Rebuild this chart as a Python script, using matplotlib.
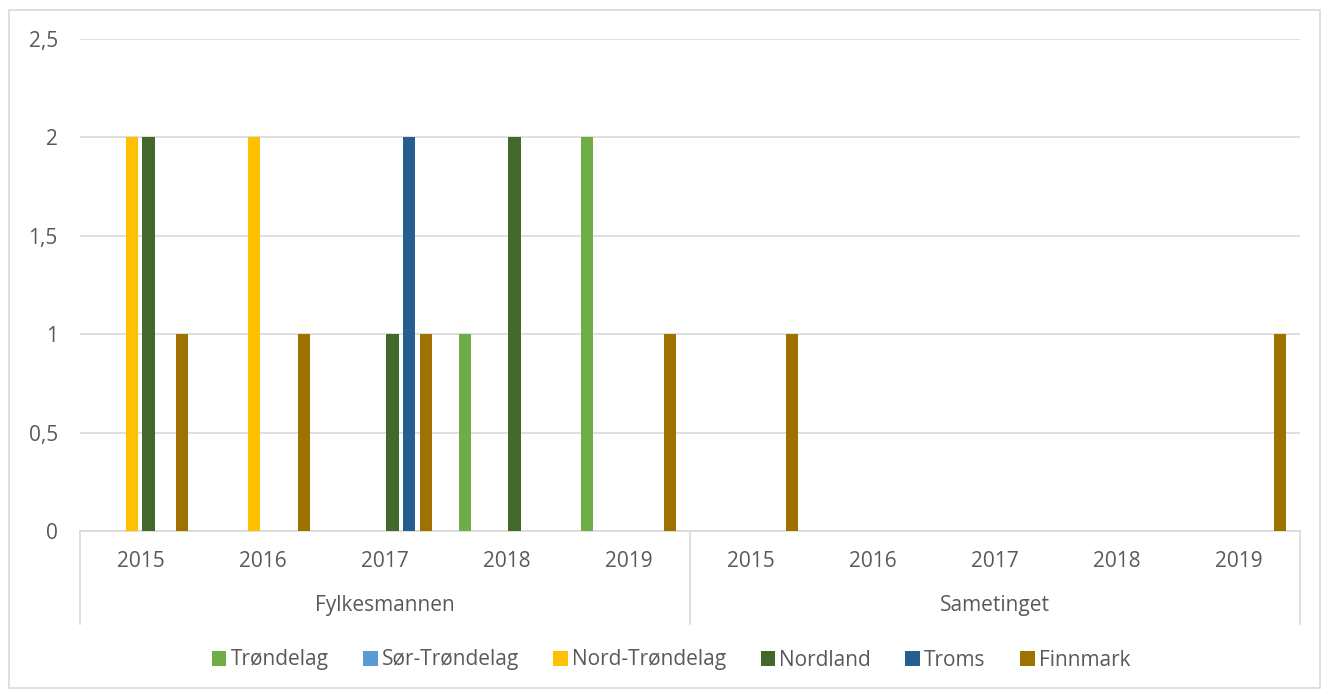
"""Clustered bar chart: cases per county, Fylkesmannen vs Sametinget, 2015-2019."""

import numpy as np
import matplotlib.pyplot as plt
from matplotlib.patches import Rectangle
from matplotlib.transforms import blended_transform_factory

plt.rcParams["font.family"] = ["Open Sans", "DejaVu Sans"]

# Data
groups = ["Fylkesmannen", "Sametinget"]
years = ["2015", "2016", "2017", "2018", "2019"]
series_names = ["Trøndelag", "Sør-Trøndelag", "Nord-Trøndelag", "Nordland", "Troms", "Finnmark"]
trondelag = [0, 0, 0, 1, 2, 0, 0, 0, 0, 0]
sor_trondelag = [0, 0, 0, 0, 0, 0, 0, 0, 0, 0]
nord_trondelag = [2, 2, 0, 0, 0, 0, 0, 0, 0, 0]
nordland = [2, 0, 1, 2, 0, 0, 0, 0, 0, 0]
troms = [0, 0, 2, 0, 0, 0, 0, 0, 0, 0]
finnmark = [1, 1, 1, 0, 1, 1, 0, 0, 0, 1]
colors = ["#70AD47", "#5B9BD5", "#FFC000", "#43682B", "#255E91", "#9E7200"]

values = [trondelag, sor_trondelag, nord_trondelag, nordland, troms, finnmark]
text_color = "#595959"
grid_color = "#D9D9D9"
fsize = 15

fig = plt.figure(figsize=(13.21, 6.9), dpi=100)
W, H = 1321, 690
ax = fig.add_axes([80 / W, 1 - 531 / H, 1220 / W, 492 / H])

n_cat = len(groups) * len(years)
x = np.arange(n_cat)
step = 0.136
width = 0.1
for i, (name, vals, col) in enumerate(zip(series_names, values, colors)):
    ax.bar(x + (i - 2.55) * step, vals, width=width, color=col, label=name, zorder=3)

ax.set_xlim(-0.5, n_cat - 0.5)
ax.set_ylim(0, 2.5)
ax.set_yticks([0, 0.5, 1, 1.5, 2, 2.5])
ax.set_yticklabels(["0", "0,5", "1", "1,5", "2", "2,5"], fontsize=fsize, color=text_color)
ax.tick_params(axis="y", length=0, pad=16)
ax.set_xticks([])
ax.grid(axis="y", color=grid_color, linewidth=1.2, zorder=0)
for side in ["left", "right", "top"]:
    ax.spines[side].set_visible(False)
ax.spines["bottom"].set_color(grid_color)
ax.spines["bottom"].set_linewidth(1.2)

# Two-level category axis
trans = blended_transform_factory(ax.transData, ax.transAxes)
for k in range(n_cat):
    ax.text(k, -0.061, years[k % len(years)], transform=trans, ha="center", va="center",
            fontsize=fsize, color=text_color)
for g, name in enumerate(groups):
    ax.text(g * len(years) + 2, -0.152, name, transform=trans, ha="center", va="center",
            fontsize=fsize, color=text_color)
for xs in [-0.5, 4.5, 9.5]:
    ax.plot([xs, xs], [0, -0.189], transform=trans, color=grid_color, linewidth=1.2,
            clip_on=False)

fig.legend(loc="center", bbox_to_anchor=(0.508, 1 - 660 / H), ncol=6, frameon=False,
           fontsize=fsize, labelcolor=text_color, handlelength=0.7, handleheight=0.7,
           handletextpad=0.2, columnspacing=1.65)

# Chart border
fig.add_artist(Rectangle((9 / W, 2 / H), 1311 / W, 678 / H, transform=fig.transFigure,
                         fill=False, edgecolor=grid_color, linewidth=1.2))

fig.savefig("out.png", dpi=100)
